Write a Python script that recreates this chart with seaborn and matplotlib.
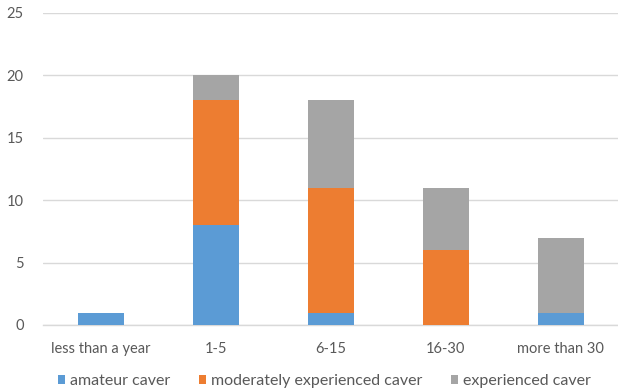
import numpy as np
import pandas as pd
import matplotlib
matplotlib.use("Agg")
import matplotlib.pyplot as plt
import seaborn as sns
from matplotlib.patches import Patch

categories = ["less than a year", "1-5", "6-15", "16-30", "more than 30"]
amateur = [1, 8, 1, 0, 1]
moderate = [0, 10, 10, 6, 0]
experienced = [0, 2, 7, 5, 6]
series_names = ["amateur caver", "moderately experienced caver", "experienced caver"]
colors = ["#5B9BD5", "#ED7D31", "#A5A5A5"]
yticks = [0, 5, 10, 15, 20, 25]

sns.set_theme(style="white")
plt.rcParams["font.family"] = ["Lato", "DejaVu Sans"]

fig = plt.figure(figsize=(6.18, 3.91), dpi=100)
ax = fig.add_axes([43 / 618, 66 / 391, 575 / 618, 312 / 391])

bottom = np.zeros(len(categories))
for name, vals, col in zip(series_names, [amateur, moderate, experienced], colors):
    df = pd.DataFrame({"cat": categories, "val": vals})
    sns.barplot(data=df, x="cat", y="val", color=col, width=0.4, ax=ax,
                bottom=bottom.copy(), edgecolor="none", linewidth=0, saturation=1,
                zorder=3)
    bottom += np.array(vals)

ax.set_ylim(0, 25)
ax.set_xlim(-0.5, len(categories) - 0.5)
ax.set_yticks(yticks)
ax.set_yticklabels([str(t) for t in yticks])
ax.yaxis.grid(True, color="#D9D9D9", linewidth=1)
ax.set_axisbelow(True)
for s in ["top", "right", "left"]:
    ax.spines[s].set_visible(False)
ax.spines["bottom"].set_color("#D9D9D9")
ax.spines["bottom"].set_linewidth(1)
ax.set_xlabel("")
ax.set_ylabel("")
ax.tick_params(axis="both", length=0, labelsize=10.5, labelcolor="#595959")
ax.tick_params(axis="x", pad=12)
ax.tick_params(axis="y", pad=14)

handles = [Patch(facecolor=c, edgecolor="none") for c in colors]
fig.legend(handles, series_names, loc="center", bbox_to_anchor=(0.525, 10 / 391),
           ncol=3, frameon=False, fontsize=11.5, labelcolor="#595959",
           handlelength=0.45, handleheight=0.45, handletextpad=0.3, columnspacing=1.8,
           borderpad=0, borderaxespad=0)

fig.savefig("out.png", dpi=100)
